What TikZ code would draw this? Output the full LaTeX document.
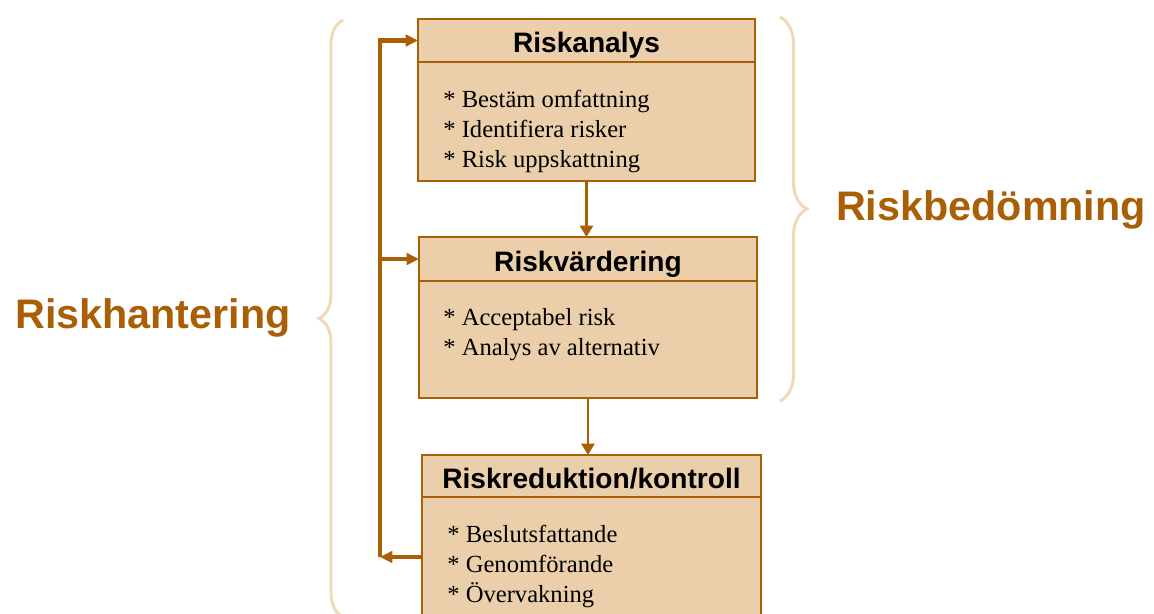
\documentclass[tikz,border=0pt]{standalone}
\usepackage{fontspec}
\setmainfont{Liberation Serif}
\setsansfont{Liberation Sans}
\usepackage{xcolor}
\usepackage{tikz}
\usetikzlibrary{positioning, arrows.meta, calc, decorations.pathreplacing}
\definecolor{riskbrown}{HTML}{A95F05}
\definecolor{boxfill}{HTML}{EBCFAA}
\definecolor{bracetan}{HTML}{EFD9B9}

\begin{document}
\begin{tikzpicture}[x=0.02cm, y=-0.02cm,
    head/.style={draw=riskbrown, line width=1.3pt, fill=boxfill, outer sep=0pt,
      text height=14pt, text depth=0pt,
      font=\sffamily\bfseries\fontsize{16}{18}\selectfont},
    body/.style={draw=riskbrown, line width=1.3pt, fill=boxfill, outer sep=0pt},
    list/.style={align=left, inner sep=0pt, font=\fontsize{14}{17}\selectfont},
    flow/.style={draw=riskbrown, line width=1.3pt, -{Triangle[length=6.5pt, width=7.5pt]}},
    feedback/.style={draw=riskbrown, line width=2.4pt, -{Triangle[length=7pt, width=6.5pt]}},
    bracket/.style={draw=bracetan, line width=1.7pt, decorate,
      decoration={brace, amplitude=0.48cm}},
    biglabel/.style={text=riskbrown, font=\sffamily\bfseries\fontsize{23.5}{27}\selectfont}]
  \useasboundingbox (0,0) rectangle (1154,613);

  % the three boxes
  \node[head, anchor=north west, minimum width=6.74cm, minimum height=0.86cm] (analys) at (418,19) {Riskanalys};
  \node[body, below=0pt of analys, minimum width=6.74cm, minimum height=2.38cm] (analysbody) {};
  \node[list, below right=0.56cm and 0.5cm of analysbody.north west] (analyslist)
    {* Bestäm omfattning\\* Identifiera risker\\* Risk uppskattning};

  \node[head, anchor=north west, minimum width=6.76cm, minimum height=0.88cm] (vardering) at (419,237) {Riskvärdering};
  \node[body, below=0pt of vardering, minimum width=6.76cm, minimum height=2.34cm] (varderingbody) {};
  \node[list, below right=0.54cm and 0.48cm of varderingbody.north west] (varderinglist)
    {* Acceptabel risk\\* Analys av alternativ};

  \node[head, anchor=north west, minimum width=6.78cm, minimum height=0.84cm] (kontroll) at (422,455) {Riskreduktion/kontroll};
  \node[body, below=0pt of kontroll, minimum width=6.78cm, minimum height=2.4cm] (kontrollbody) {};
  \node[list, below right=0.56cm and 0.5cm of kontrollbody.north west] (kontrolllist)
    {* Beslutsfattande\\* Genomförande\\* Övervakning};

  % arrows
  \draw[flow] (analysbody.south) -- (analysbody.south |- vardering.north);
  \draw[flow] (varderingbody.south) -- (varderingbody.south |- kontroll.north);

  \coordinate (loopx) at (380,0);
  \draw[feedback] (kontrollbody.west) -- (kontrollbody.west -| loopx);
  \draw[feedback] (kontrollbody.west -| loopx) |- (analys.west);
  \draw[feedback] (vardering.west -| loopx) -- (vardering.west);

  % braces and labels
  \draw[bracket] (343,617) -- (343,20);
  \draw[bracket, decoration={amplitude=0.54cm}] (780,17) -- (780,401);
  \node[biglabel] (hantering) at (153,318) {Riskhantering};
  \node[biglabel] (bedomning) at (991,210) {Riskbedömning};
\end{tikzpicture}
\end{document}
